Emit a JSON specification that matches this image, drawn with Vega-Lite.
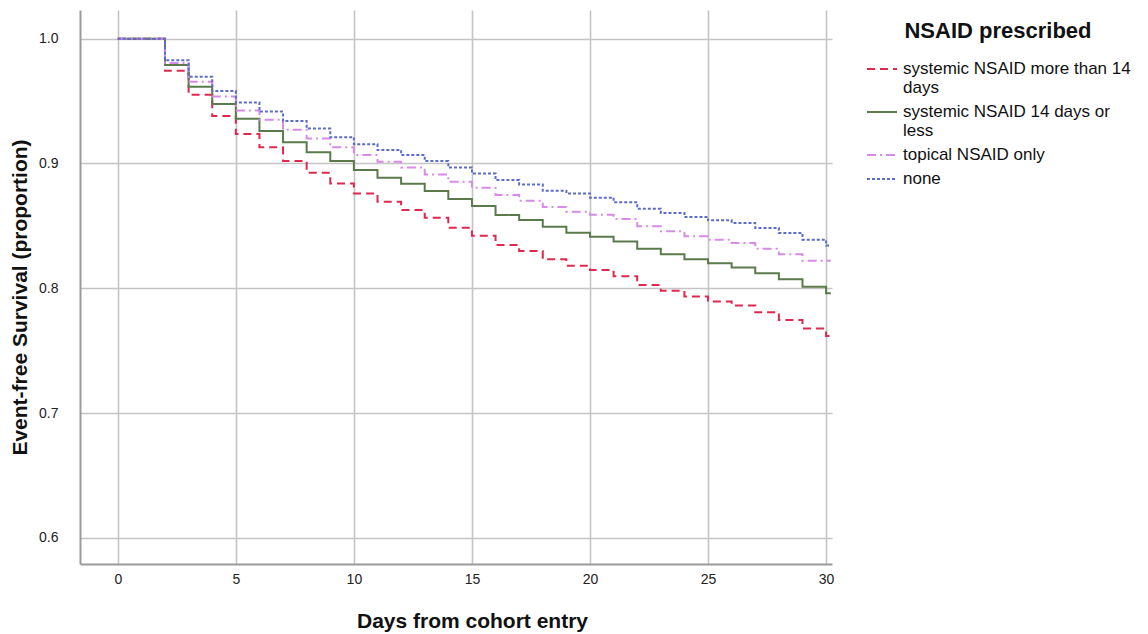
{
  "$schema": "https://vega.github.io/schema/vega-lite/v6.json",
  "autosize": {"type": "none"},
  "padding": {"left": 80, "top": 10, "right": 316, "bottom": 70},
  "width": 752,
  "height": 554,
  "background": "white",
  "config": {
    "view": {"stroke": null},
    "font": "Liberation Sans"
  },
  "datasets": {
    "km": [
      {"group": "systemic NSAID more than 14 days", "day": 0, "s": 1.0},
      {"group": "systemic NSAID more than 14 days", "day": 2, "s": 0.9743},
      {"group": "systemic NSAID more than 14 days", "day": 3, "s": 0.955},
      {"group": "systemic NSAID more than 14 days", "day": 4, "s": 0.938},
      {"group": "systemic NSAID more than 14 days", "day": 5, "s": 0.9236},
      {"group": "systemic NSAID more than 14 days", "day": 6, "s": 0.913},
      {"group": "systemic NSAID more than 14 days", "day": 7, "s": 0.902},
      {"group": "systemic NSAID more than 14 days", "day": 8, "s": 0.8926},
      {"group": "systemic NSAID more than 14 days", "day": 9, "s": 0.884},
      {"group": "systemic NSAID more than 14 days", "day": 10, "s": 0.876},
      {"group": "systemic NSAID more than 14 days", "day": 11, "s": 0.8693},
      {"group": "systemic NSAID more than 14 days", "day": 12, "s": 0.8627},
      {"group": "systemic NSAID more than 14 days", "day": 13, "s": 0.8565},
      {"group": "systemic NSAID more than 14 days", "day": 14, "s": 0.8485},
      {"group": "systemic NSAID more than 14 days", "day": 15, "s": 0.8421},
      {"group": "systemic NSAID more than 14 days", "day": 16, "s": 0.8347},
      {"group": "systemic NSAID more than 14 days", "day": 17, "s": 0.8299},
      {"group": "systemic NSAID more than 14 days", "day": 18, "s": 0.8232},
      {"group": "systemic NSAID more than 14 days", "day": 19, "s": 0.8181},
      {"group": "systemic NSAID more than 14 days", "day": 20, "s": 0.8147},
      {"group": "systemic NSAID more than 14 days", "day": 21, "s": 0.8097},
      {"group": "systemic NSAID more than 14 days", "day": 22, "s": 0.8027},
      {"group": "systemic NSAID more than 14 days", "day": 23, "s": 0.7979},
      {"group": "systemic NSAID more than 14 days", "day": 24, "s": 0.7933},
      {"group": "systemic NSAID more than 14 days", "day": 25, "s": 0.7893},
      {"group": "systemic NSAID more than 14 days", "day": 26, "s": 0.7861},
      {"group": "systemic NSAID more than 14 days", "day": 27, "s": 0.7807},
      {"group": "systemic NSAID more than 14 days", "day": 28, "s": 0.7745},
      {"group": "systemic NSAID more than 14 days", "day": 29, "s": 0.7678},
      {"group": "systemic NSAID more than 14 days", "day": 30, "s": 0.7617},
      {"group": "systemic NSAID more than 14 days", "day": 30.2, "s": 0.7617},

      {"group": "systemic NSAID 14 days or less", "day": 0, "s": 1.0},
      {"group": "systemic NSAID 14 days or less", "day": 2, "s": 0.979},
      {"group": "systemic NSAID 14 days or less", "day": 3, "s": 0.9615},
      {"group": "systemic NSAID 14 days or less", "day": 4, "s": 0.9477},
      {"group": "systemic NSAID 14 days or less", "day": 5, "s": 0.9358},
      {"group": "systemic NSAID 14 days or less", "day": 6, "s": 0.926},
      {"group": "systemic NSAID 14 days or less", "day": 7, "s": 0.917},
      {"group": "systemic NSAID 14 days or less", "day": 8, "s": 0.909},
      {"group": "systemic NSAID 14 days or less", "day": 9, "s": 0.902},
      {"group": "systemic NSAID 14 days or less", "day": 10, "s": 0.8947},
      {"group": "systemic NSAID 14 days or less", "day": 11, "s": 0.8885},
      {"group": "systemic NSAID 14 days or less", "day": 12, "s": 0.8837},
      {"group": "systemic NSAID 14 days or less", "day": 13, "s": 0.8779},
      {"group": "systemic NSAID 14 days or less", "day": 14, "s": 0.8715},
      {"group": "systemic NSAID 14 days or less", "day": 15, "s": 0.8659},
      {"group": "systemic NSAID 14 days or less", "day": 16, "s": 0.8587},
      {"group": "systemic NSAID 14 days or less", "day": 17, "s": 0.8547},
      {"group": "systemic NSAID 14 days or less", "day": 18, "s": 0.8493},
      {"group": "systemic NSAID 14 days or less", "day": 19, "s": 0.8445},
      {"group": "systemic NSAID 14 days or less", "day": 20, "s": 0.8413},
      {"group": "systemic NSAID 14 days or less", "day": 21, "s": 0.8375},
      {"group": "systemic NSAID 14 days or less", "day": 22, "s": 0.8316},
      {"group": "systemic NSAID 14 days or less", "day": 23, "s": 0.8273},
      {"group": "systemic NSAID 14 days or less", "day": 24, "s": 0.8233},
      {"group": "systemic NSAID 14 days or less", "day": 25, "s": 0.8201},
      {"group": "systemic NSAID 14 days or less", "day": 26, "s": 0.8166},
      {"group": "systemic NSAID 14 days or less", "day": 27, "s": 0.8121},
      {"group": "systemic NSAID 14 days or less", "day": 28, "s": 0.8072},
      {"group": "systemic NSAID 14 days or less", "day": 29, "s": 0.8013},
      {"group": "systemic NSAID 14 days or less", "day": 30, "s": 0.796},
      {"group": "systemic NSAID 14 days or less", "day": 30.2, "s": 0.796},

      {"group": "topical NSAID only", "day": 0, "s": 1.0},
      {"group": "topical NSAID only", "day": 2, "s": 0.9806},
      {"group": "topical NSAID only", "day": 3, "s": 0.9655},
      {"group": "topical NSAID only", "day": 4, "s": 0.9536},
      {"group": "topical NSAID only", "day": 5, "s": 0.9424},
      {"group": "topical NSAID only", "day": 6, "s": 0.935},
      {"group": "topical NSAID only", "day": 7, "s": 0.927},
      {"group": "topical NSAID only", "day": 8, "s": 0.92},
      {"group": "topical NSAID only", "day": 9, "s": 0.913},
      {"group": "topical NSAID only", "day": 10, "s": 0.9067},
      {"group": "topical NSAID only", "day": 11, "s": 0.9013},
      {"group": "topical NSAID only", "day": 12, "s": 0.8968},
      {"group": "topical NSAID only", "day": 13, "s": 0.8912},
      {"group": "topical NSAID only", "day": 14, "s": 0.8853},
      {"group": "topical NSAID only", "day": 15, "s": 0.8805},
      {"group": "topical NSAID only", "day": 16, "s": 0.8747},
      {"group": "topical NSAID only", "day": 17, "s": 0.8701},
      {"group": "topical NSAID only", "day": 18, "s": 0.8651},
      {"group": "topical NSAID only", "day": 19, "s": 0.8613},
      {"group": "topical NSAID only", "day": 20, "s": 0.859},
      {"group": "topical NSAID only", "day": 21, "s": 0.8555},
      {"group": "topical NSAID only", "day": 22, "s": 0.8496},
      {"group": "topical NSAID only", "day": 23, "s": 0.8456},
      {"group": "topical NSAID only", "day": 24, "s": 0.8416},
      {"group": "topical NSAID only", "day": 25, "s": 0.8389},
      {"group": "topical NSAID only", "day": 26, "s": 0.8362},
      {"group": "topical NSAID only", "day": 27, "s": 0.8316},
      {"group": "topical NSAID only", "day": 28, "s": 0.8273},
      {"group": "topical NSAID only", "day": 29, "s": 0.822},
      {"group": "topical NSAID only", "day": 30, "s": 0.822},
      {"group": "topical NSAID only", "day": 30.2, "s": 0.822},

      {"group": "none", "day": 0, "s": 1.0},
      {"group": "none", "day": 2, "s": 0.9828},
      {"group": "none", "day": 3, "s": 0.9695},
      {"group": "none", "day": 4, "s": 0.958},
      {"group": "none", "day": 5, "s": 0.9488},
      {"group": "none", "day": 6, "s": 0.9416},
      {"group": "none", "day": 7, "s": 0.934},
      {"group": "none", "day": 8, "s": 0.928},
      {"group": "none", "day": 9, "s": 0.921},
      {"group": "none", "day": 10, "s": 0.9154},
      {"group": "none", "day": 11, "s": 0.9107},
      {"group": "none", "day": 12, "s": 0.9067},
      {"group": "none", "day": 13, "s": 0.9019},
      {"group": "none", "day": 14, "s": 0.8968},
      {"group": "none", "day": 15, "s": 0.892},
      {"group": "none", "day": 16, "s": 0.8867},
      {"group": "none", "day": 17, "s": 0.8832},
      {"group": "none", "day": 18, "s": 0.8781},
      {"group": "none", "day": 19, "s": 0.876},
      {"group": "none", "day": 20, "s": 0.8726},
      {"group": "none", "day": 21, "s": 0.8689},
      {"group": "none", "day": 22, "s": 0.8638},
      {"group": "none", "day": 23, "s": 0.8603},
      {"group": "none", "day": 24, "s": 0.8571},
      {"group": "none", "day": 25, "s": 0.8544},
      {"group": "none", "day": 26, "s": 0.8523},
      {"group": "none", "day": 27, "s": 0.8483},
      {"group": "none", "day": 28, "s": 0.8442},
      {"group": "none", "day": 29, "s": 0.8389},
      {"group": "none", "day": 30, "s": 0.8343},
      {"group": "none", "day": 30.2, "s": 0.8343}
    ]
  },
  "data": {"name": "km"},
  "mark": {"type": "line", "interpolate": "step-after", "strokeWidth": 2},
  "encoding": {
    "x": {
      "field": "day", "type": "quantitative",
      "scale": {"domain": [-1.6, 30.25], "nice": false, "zero": false},
      "axis": {
        "values": [0, 5, 10, 15, 20, 25, 30],
        "title": "Days from cohort entry",
        "titleFontSize": 21, "titleFontWeight": "bold", "titleColor": "#111",
        "titlePadding": 24, "titleX": 392,
        "labelFontSize": 14, "labelColor": "#222", "labelPadding": 8,
        "ticks": false,
        "domainColor": "#9a9a9a", "domainWidth": 2,
        "grid": true, "gridColor": "#c4c4c4", "gridWidth": 1.6
      }
    },
    "y": {
      "field": "s", "type": "quantitative",
      "scale": {"domain": [0.579, 1.023], "nice": false, "zero": false},
      "axis": {
        "values": [0.6, 0.7, 0.8, 0.9, 1.0],
        "format": ".1f",
        "title": "Event-free Survival (proportion)",
        "titleFontSize": 21, "titleFontWeight": "bold", "titleColor": "#111",
        "titlePadding": 8, "titleY": 287,
        "labelFontSize": 14, "labelColor": "#222", "labelPadding": 22,
        "ticks": false,
        "domainColor": "#9a9a9a", "domainWidth": 2,
        "grid": true, "gridColor": "#c4c4c4", "gridWidth": 1.6
      }
    },
    "color": {
      "field": "group", "type": "nominal",
      "scale": {
        "domain": ["systemic NSAID more than 14 days", "systemic NSAID 14 days or less", "topical NSAID only", "none"],
        "range": ["#e0284f", "#5b7a4b", "#d88ae8", "#5b6cc8"]
      },
      "legend": {
        "title": "NSAID prescribed",
        "orient": "none", "legendX": 786, "legendY": 11,
        "titleFontSize": 22, "titleFontWeight": "bold", "titleColor": "#111",
        "titleAnchor": "middle", "titlePadding": 10, "titleLimit": 400,
        "labelFontSize": 17, "labelColor": "#111", "labelLimit": 400, "labelOffset": 5,
        "symbolType": "stroke", "symbolSize": 900, "symbolStrokeWidth": 2,
        "rowPadding": 0,
        "labelExpr": "datum.label == 'systemic NSAID more than 14 days' ? ['systemic NSAID more than 14', 'days'] : datum.label == 'systemic NSAID 14 days or less' ? ['systemic NSAID 14 days or', 'less'] : datum.label"
      }
    },
    "strokeDash": {
      "field": "group", "type": "nominal",
      "scale": {
        "domain": ["systemic NSAID more than 14 days", "systemic NSAID 14 days or less", "topical NSAID only", "none"],
        "range": [[8, 5], [1, 0], [9, 4, 2, 4], [3, 2]]
      },
      "legend": {
        "title": "NSAID prescribed"
      }
    }
  }
}
